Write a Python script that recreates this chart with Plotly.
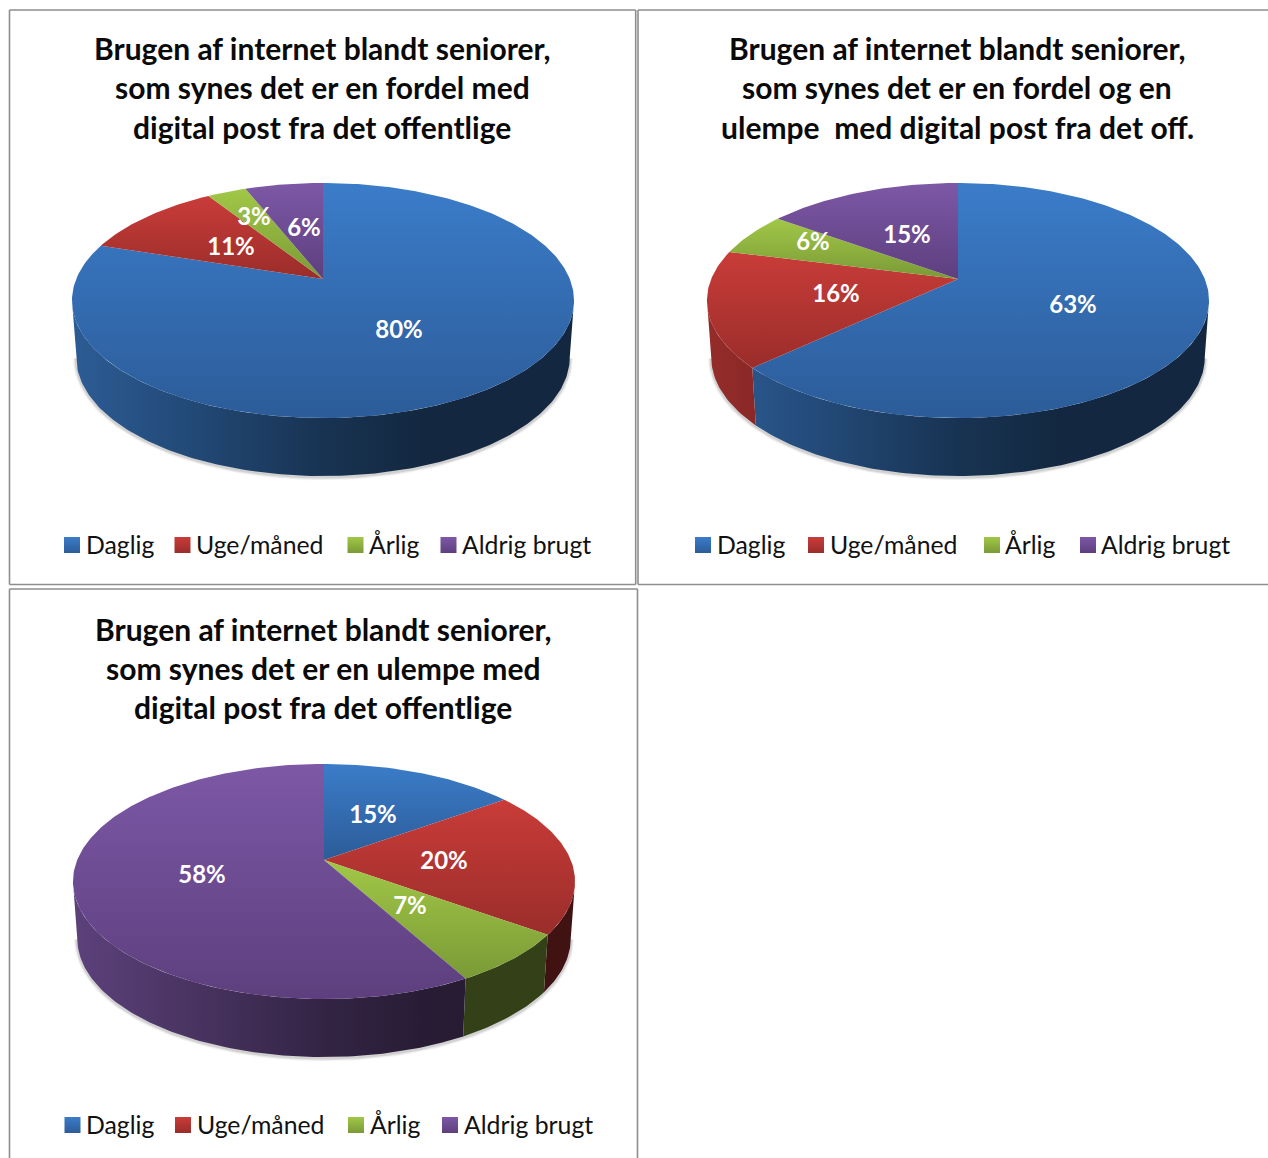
import numpy as np
import plotly.graph_objects as go

# Data
categories = ["Daglig", "Uge/måned", "Årlig", "Aldrig brugt"]
fordel = [80, 11, 3, 6]
begge = [63, 16, 6, 15]
ulempe = [15, 20, 7, 58]

titles_fordel = ["Brugen af internet blandt seniorer,", "som synes det er en fordel med", "digital post fra det offentlige"]
titles_begge = ["Brugen af internet blandt seniorer,", "som synes det er en fordel og en", "ulempe\u00a0 med digital post fra det off."]
titles_ulempe = ["Brugen af internet blandt seniorer,", "som synes det er en ulempe med", "digital post fra det offentlige"]

# Colours of each category: top of wedge, bottom of wedge
TOP_COLOURS = [(59, 124, 201), (201, 60, 57), (161, 199, 71), (125, 88, 166)]
BOTTOM_COLOURS = [(44, 92, 153), (154, 45, 42), (122, 154, 54), (93, 63, 126)]

# Perspective model of the disc and extruded rim
RX = 246.8
RY = 113.6
PERSP = 0.183
DEPTH = 56.5
RIM_SHRINK = 0.983
WIDEST = np.arccos(-PERSP)  # angle at which the disc is widest on screen

# Brightness of the rim as the light falls off from left to right
RIM_LIGHT = [(0.0, 0.74), (0.25, 0.58), (0.5, 0.41), (0.7, 0.32), (1.0, 0.32)]

panels = [
    dict(values=fordel, cx=323, cy=279, title=titles_fordel, title_x=322, title_y=[48, 87, 127],
         key_swatch=[72, 182.5, 355.5, 448.5], key_text=[86, 196, 369, 462], key_y=545,
         label_offsets=[(76, 53), (-92, -30), (-69, -60), (-19, -49)]),
    dict(values=begge, cx=958, cy=279, title=titles_begge, title_x=957, title_y=[48, 87, 127],
         key_swatch=[703, 816, 992, 1088], key_text=[717, 830, 1005, 1101], key_y=545,
         label_offsets=[(115, 28), (-122, 17), (-145, -35), (-51, -42)]),
    dict(values=ulempe, cx=324, cy=860, title=titles_ulempe, title_x=323, title_y=[629, 668, 707],
         key_swatch=[72.5, 183, 356, 450], key_text=[86, 197, 370, 464], key_y=1125,
         label_offsets=[(49, -43), (120, 3), (86, 48), (-122, 17)]),
]


def rgb(c):
    return "rgb({},{},{})".format(*[int(round(v)) for v in c])


def disc_point(theta):
    """Project an angle (clockwise from twelve o'clock) onto the tilted disc."""
    u, v = np.sin(theta), np.cos(theta)
    w = 1 + PERSP * v
    return RX * u / w, -RY * v / w


def rim_point(theta):
    x, y = disc_point(theta)
    return x * RIM_SHRINK, y + DEPTH - 1.5 * np.cos(theta)


def rim_scale(colour):
    return [[t, rgb([c * k for c in colour])] for t, k in RIM_LIGHT]


fig = go.Figure()

for p in panels:
    cx, cy = p["cx"], p["cy"]
    fractions = np.array(p["values"], dtype=float) / sum(p["values"])
    edges = np.concatenate([[0], np.cumsum(fractions)]) * 2 * np.pi
    lo_vis, hi_vis = WIDEST, 2 * np.pi - WIDEST

    # Soft shadow along the front of the rim
    th = np.linspace(lo_vis, hi_vis, 160)
    sx, sy = rim_point(th)
    for width, alpha in [(7, 0.04), (5, 0.06), (3, 0.09)]:
        fig.add_trace(go.Scatter(x=cx + sx, y=cy + sy + 1, mode="lines",
                                 line=dict(color=f"rgba(0,0,0,{alpha})", width=width),
                                 hoverinfo="skip", showlegend=False))

    # Rim, only the part that faces the viewer
    for i in range(len(categories)):
        lo, hi = max(edges[i], lo_vis), min(edges[i + 1], hi_vis)
        if hi <= lo:
            continue
        th = np.linspace(lo, hi, max(8, int((hi - lo) * 60)))
        tx, ty = disc_point(th)
        bx, by = rim_point(th[::-1])
        fig.add_trace(go.Scatter(
            x=np.concatenate([cx + tx, cx + bx]),
            y=np.concatenate([cy + ty, cy + by]),
            mode="lines", line=dict(width=0), fill="toself",
            fillgradient=dict(type="horizontal", colorscale=rim_scale(TOP_COLOURS[i]),
                              start=cx - 251, stop=cx + 251),
            hoverinfo="skip", showlegend=False))

    # Top face of the pie
    for i, name in enumerate(categories):
        th = np.linspace(edges[i], edges[i + 1], max(8, int((edges[i + 1] - edges[i]) * 60)))
        tx, ty = disc_point(th)
        xs = np.concatenate([[cx], cx + tx, [cx]])
        ys = np.concatenate([[cy], cy + ty, [cy]])
        fig.add_trace(go.Scatter(
            x=xs, y=ys, mode="lines", line=dict(width=0), fill="toself",
            fillgradient=dict(type="vertical",
                              colorscale=[[0, rgb(TOP_COLOURS[i])], [1, rgb(BOTTOM_COLOURS[i])]],
                              start=float(ys.min()), stop=float(ys.max())),
            name=name, hovertemplate=f"{name}: {p['values'][i]}%<extra></extra>",
            showlegend=False))

    # Value labels
    fig.add_trace(go.Scatter(
        x=[cx + o[0] for o in p["label_offsets"]],
        y=[cy + o[1] for o in p["label_offsets"]],
        mode="text", text=[f"{v}%" for v in p["values"]], textposition="middle center",
        textfont=dict(family="Lato", size=24, color="white", weight="bold"),
        hoverinfo="skip", showlegend=False))

    # Colour key under the pie
    for i, name in enumerate(categories):
        fig.add_trace(go.Scatter(
            x=[p["key_swatch"][i]], y=[p["key_y"]], mode="markers", name=name,
            marker=dict(symbol="square", size=16, color=rgb(TOP_COLOURS[i]), line=dict(width=0),
                        gradient=dict(type="vertical", color=rgb(BOTTOM_COLOURS[i]))),
            hoverinfo="skip", showlegend=False))
        fig.add_trace(go.Scatter(
            x=[p["key_text"][i]], y=[p["key_y"] + 3], mode="text", text=[name], textposition="middle right",
            textfont=dict(family="Lato", size=24.8, color="#111111"),
            hoverinfo="skip", showlegend=False))

annotations = []
for p in panels:
    for line, y in zip(p["title"], p["title_y"]):
        annotations.append(dict(x=p["title_x"], y=y, xref="x", yref="y", text=line, showarrow=False,
                                xanchor="center", yanchor="middle",
                                font=dict(family="Lato", size=30, color="#0a0a0a", weight="bold")))

# Frames around the three charts
border = dict(type="line", xref="x", yref="y", line=dict(color="#8e8e8e", width=1.6), layer="above")
segments = [
    (9.5, 10, 635.7, 10), (9.5, 10, 9.5, 584.5), (635.7, 10, 635.7, 584.5), (9.5, 584.5, 635.7, 584.5),
    (638, 10, 1268, 10), (638, 10, 638, 584.5), (638, 584.5, 1268, 584.5),
    (9.5, 589, 637.5, 589), (9.5, 589, 9.5, 1158), (637.5, 589, 637.5, 1158),
]
shapes = [dict(border, x0=a, y0=b, x1=c, y1=d) for a, b, c, d in segments]

fig.update_layout(
    width=1268, height=1158, autosize=False,
    margin=dict(l=0, r=0, t=0, b=0), showlegend=False,
    paper_bgcolor="white", plot_bgcolor="white",
    xaxis=dict(range=[0, 1268], visible=False, fixedrange=True),
    yaxis=dict(range=[1158, 0], visible=False, fixedrange=True),
    annotations=annotations, shapes=shapes,
)

fig.write_html("out.html")
